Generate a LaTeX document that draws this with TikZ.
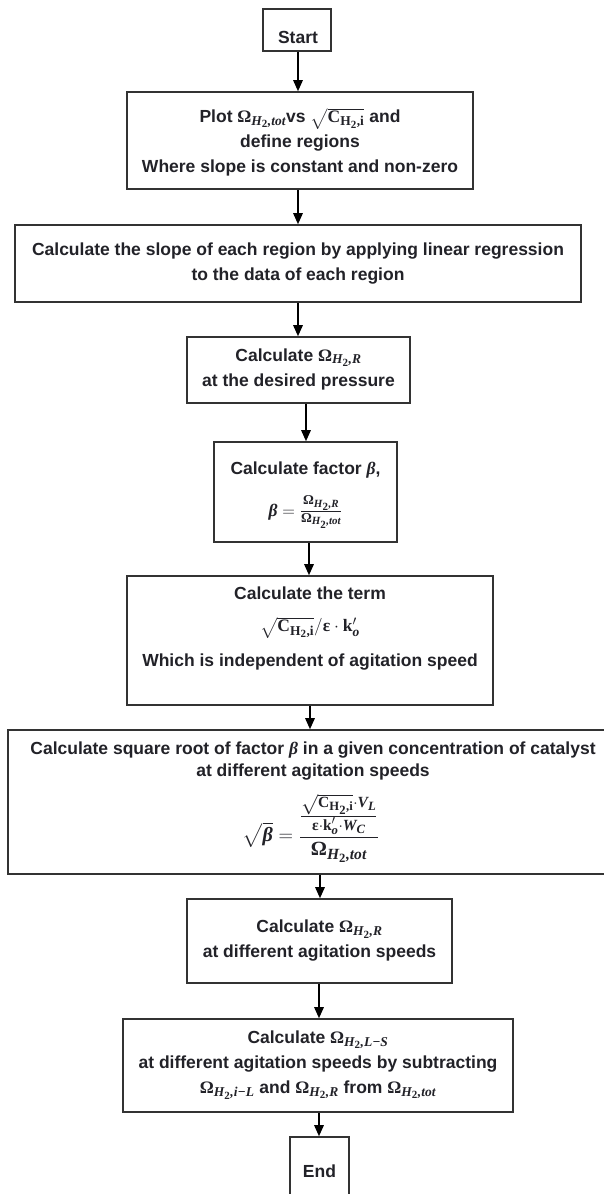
\RequirePackage{fix-cm}
\documentclass[tikz,border=0pt]{standalone}
\usepackage{amsmath}
\usepackage[no-math]{fontspec}
\setmainfont{Liberation Sans}
\newfontfamily\mf{Liberation Serif}
\usetikzlibrary{arrows.meta}
\DeclareMathSizes{17.5}{17.5}{13.5}{11}
\definecolor{textc}{HTML}{222228}
\definecolor{linec}{HTML}{333333}
\newcommand{\bi}[1]{\text{\mf\bfseries\itshape #1}}
\newcommand{\bu}[1]{\text{\mf\bfseries\upshape #1}}
\newcommand{\OmS}[1]{\bu{Ω}_{\bi{H}_{\bu{2}}\bi{,#1}}}
\newcommand{\CHi}{\sqrt{\bu{C}_{\bu{H}_{\bu{2}}\bu{,i}}}}
\newcommand{\kpo}{\bu{k}^{\prime}_{\bi{o}}}
\begin{document}
\begin{tikzpicture}[x=1pt,y=-1pt,
  box/.style={draw=linec, line width=1.6pt, fill=white, inner sep=0pt, rectangle},
  txt/.style={align=center, font=\bfseries\fontsize{17.5}{25}\selectfont, text=textc, inner sep=0pt},
  arr/.style={draw=black, line width=1.4pt, -{Triangle[length=11pt,width=9.5pt]}}]
\useasboundingbox (0,0) rectangle (603,1194);
% boxes
\node[box, minimum width=68pt,  minimum height=42pt]  (start) at (297,30) {};
\node[box, minimum width=346pt, minimum height=97pt]  (b2) at (300,140.5) {};
\node[box, minimum width=566pt, minimum height=77pt]  (b3) at (298,263.5) {};
\node[box, minimum width=223pt, minimum height=66pt]  (b4) at (298.5,370) {};
\node[box, minimum width=183pt, minimum height=100pt] (b5) at (305.5,492) {};
\node[box, minimum width=366pt, minimum height=129pt] (b6) at (310,640.5) {};
\node[box, minimum width=612pt, minimum height=144pt] (b7) at (314,802) {};
\node[box, minimum width=265pt, minimum height=84pt]  (b8) at (319.5,941) {};
\node[box, minimum width=390pt, minimum height=93pt]  (b9) at (318,1065.5) {};
\node[box, minimum width=59pt,  minimum height=80pt]  (end) at (319.5,1177) {};
% texts
\node[txt] (t1) at (298,37) {Start};
\node[txt] (t2) at (300,142) {Plot $\OmS{tot}$vs $\CHi$ and\\ define regions\\ Where slope is constant and non-zero};
\node[txt] (t3) at (298,264) {Calculate the slope of each region by applying linear regression\\ to the data of each region};
\node[txt] (t4) at (298.5,369) {Calculate $\OmS{R}$\\ at the desired pressure};
\node[txt] (t5a) at (305.5,470) {Calculate factor $\bi{β}$,};
\node[txt] (t5b) at (305.5,512) {$\bi{β} = \frac{\OmS{R}}{\OmS{tot}}$};
\node[txt] (t6a) at (310,593) {Calculate the term};
\node[txt] (t6b) at (310,628) {$\CHi/\bu{ε}\cdot\kpo$};
\node[txt] (t6c) at (310,662) {Which is independent of agitation speed};
\node[txt, font=\bfseries\fontsize{17.5}{22}\selectfont] (t7a) at (313,761) {Calculate square root of factor $\bi{β}$ in a given concentration of catalyst\\ at different agitation speeds};
\node[txt] (t7b) at (311,828) {\scalebox{1.15}{$\displaystyle\sqrt{\bi{β}} = \frac{\frac{\CHi\cdot\bi{V}_{\bi{L}}}{\bu{ε}\cdot\kpo\cdot\bi{W}_{\bi{C}}}}{\OmS{tot}}$}};
\node[txt] (t8) at (319.5,941) {Calculate $\OmS{R}$\\ at different agitation speeds};
\node[txt] (t9) at (318,1065) {Calculate $\OmS{L−S}$\\ at different agitation speeds by subtracting\\ $\OmS{i−L}$ and $\OmS{R}$ from $\OmS{tot}$};
\node[txt] (t10) at (319.5,1171) {End};
% arrow axes
\coordinate (a1) at (298,0);
\coordinate (a2) at (298,0);
\coordinate (a3) at (298,0);
\coordinate (a4) at (306,0);
\coordinate (a5) at (309,0);
\coordinate (a6) at (310,0);
\coordinate (a7) at (320,0);
\coordinate (a8) at (319,0);
\coordinate (a9) at (319,0);
\draw[arr] (a1 |- start.south) -- (a1 |- b2.north);
\draw[arr] (a2 |- b2.south) -- (a2 |- b3.north);
\draw[arr] (a3 |- b3.south) -- (a3 |- b4.north);
\draw[arr] (a4 |- b4.south) -- (a4 |- b5.north);
\draw[arr] (a5 |- b5.south) -- (a5 |- b6.north);
\draw[arr] (a6 |- b6.south) -- (a6 |- b7.north);
\draw[arr] (a7 |- b7.south) -- (a7 |- b8.north);
\draw[arr] (a8 |- b8.south) -- (a8 |- b9.north);
\draw[arr] (a9 |- b9.south) -- (a9 |- end.north);
\end{tikzpicture}
\end{document}
